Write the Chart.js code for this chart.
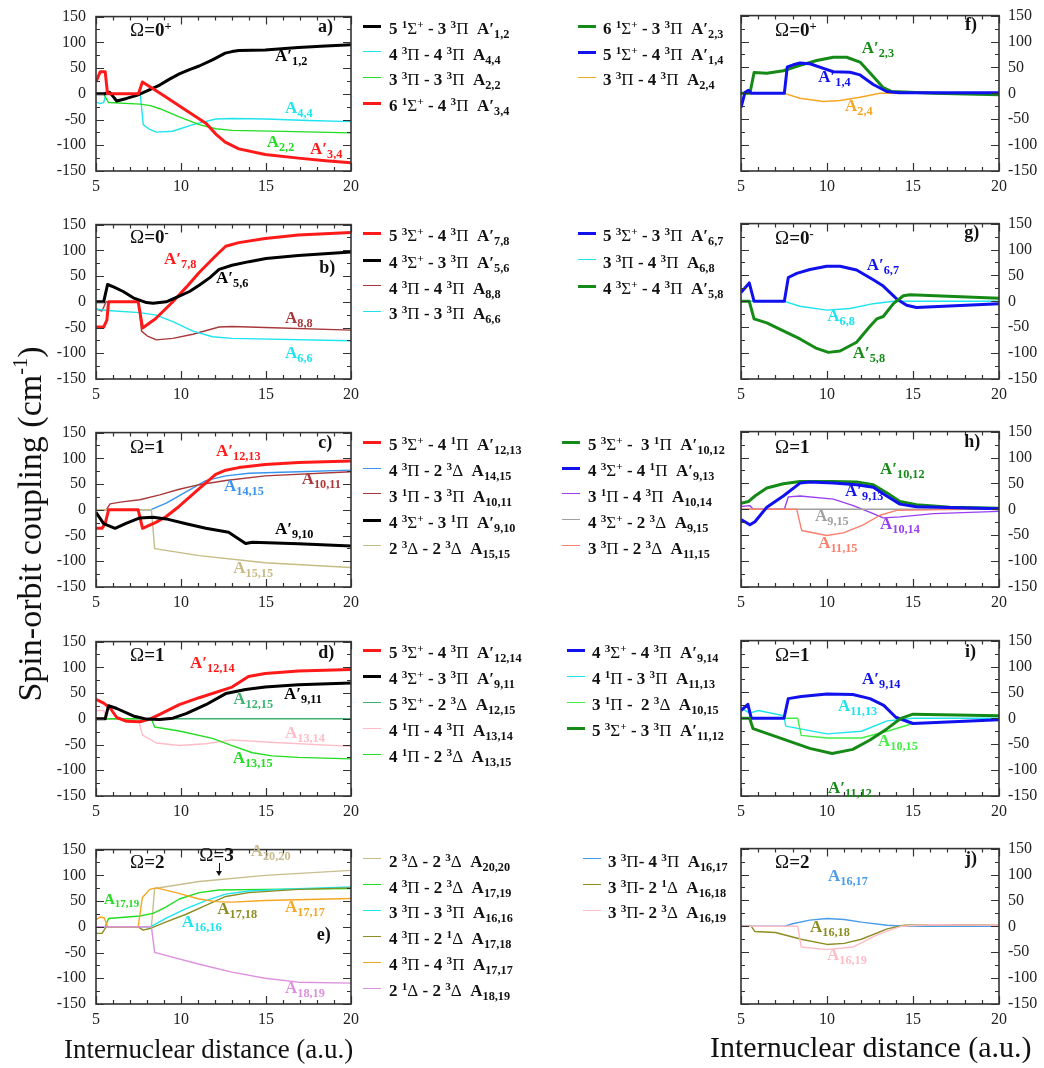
<!DOCTYPE html>
<html><head><meta charset="utf-8">
<script src="https://cdn.jsdelivr.net/npm/chart.js@4.4.0/dist/chart.umd.min.js"></script>
<style>
body{margin:0;background:#fff;width:1044px;height:1068px;position:relative;overflow:hidden;font-family:'Liberation Serif',serif;color:#111;}
canvas{position:absolute;}
.t{position:absolute;white-space:nowrap;line-height:1;font-weight:bold;}
.t sub{font-size:0.72em;vertical-align:-0.32em;line-height:0;}
.t sup{font-size:0.66em;vertical-align:0.5em;line-height:0;}
.n{font-weight:normal;}
.ln{position:absolute;height:0;}
</style></head><body>
<script>
// ---------------- data (internuclear distance a.u., coupling cm-1) ----------------
const xTicks = [5, 10, 15, 20];
const yTicks = [-150, -100, -50, 0, 50, 100, 150];
// panel a
const a_A12 = [[5,0],[5.5,0],[5.8,3],[6.0,-5],[6.22,-14],[6.8,-9],[7.4,-3],[7.97,5],[8.75,17],[9.3,28],[9.9,38.6],[10.5,47],[11.07,54],[11.85,66],[12.6,79],[13.0,82],[13.4,84],[14.95,85],[16.9,90],[18.5,93],[20,95.5]];
const a_A44 = [[5,-16],[5.25,-19],[5.45,-17],[5.6,0],[7.6,0],[7.78,-60],[8.1,-68],[8.55,-74.5],[9.5,-72.7],[10.7,-60],[12.05,-49],[13,-48],[15,-49],[17.5,-52],[20,-54]];
const a_A22 = [[5,0],[5.45,0],[5.74,-17],[7.6,-20],[8.2,-23],[8.75,-29],[9.9,-45],[11.07,-60],[12.04,-68],[13,-71],[16,-73],[20,-76]];
const a_A34 = [[5,23],[5.25,43],[5.54,43],[5.68,0],[7.5,0],[7.73,23],[9,-4],[10,-25.7],[11.46,-57],[12.1,-80],[12.6,-94],[13.4,-107],[14.95,-118],[16.9,-125],[18.5,-130],[20,-134]];
// panel b
const b_A78 = [[5,-49],[5.45,-49],[5.64,-35.5],[5.74,0],[7.48,0],[7.74,-51],[8.5,-33],[9.52,0],[10.3,28],[11.07,57],[12.0,88],[12.63,108],[13.4,115],[14.95,123],[16.9,130],[20,134.5]];
const b_A56 = [[5,0],[5.45,0],[5.68,33.6],[6.03,29],[6.6,20],[7.19,7.7],[7.97,-1.5],[8.36,-3],[9.13,0],[9.9,11],[10.5,20],[11.07,32],[11.7,47],[12.24,63],[13,71],[14,78],[15,84],[16.9,90],[20,97]];
const b_A88 = [[5,-14],[5.35,-18],[5.6,0],[7.5,0],[7.68,-57],[8.0,-66],[8.55,-74],[9.52,-71],[10.7,-63],[12.24,-49],[13,-48],[14.95,-50],[20,-55]];
const b_A66 = [[5,-14],[5.64,-17],[7.58,-21],[8.55,-26],[9.52,-38.6],[10.7,-57],[11.85,-68],[13,-71],[20,-75.7]];
// panel c
const c_A1213 = [[5,-36],[5.35,-36],[5.54,-27],[5.74,0],[7.48,0],[7.74,-36],[8.55,-24],[9.13,-13],[9.9,7],[11.07,41],[12.04,69],[12.63,77],[13.4,82],[14.95,88],[16.9,92],[20,95]];
const c_A1415 = [[5,0],[8.2,0],[9.13,13],[10.3,35],[11.46,56.6],[12.63,66],[14,71],[16.9,74],[20,77]];
const c_A1011 = [[5,0],[5.6,0],[5.83,11.5],[6.42,15],[7.58,19.6],[8.75,29],[9.9,40],[11.07,48.8],[12.63,57],[14.95,66],[20,74]];
const c_A910 = [[5,-5],[5.45,-27],[6.12,-36],[6.8,-25.8],[7.58,-15.8],[8.36,-14.6],[9.13,-17.7],[10.3,-27],[11.46,-36],[12.8,-43.8],[13.8,-65.5],[14.2,-63],[16.9,-66],[20,-70.5]];
const c_A1515 = [[5,0],[8.26,0],[8.45,-75.5],[11.07,-89],[14.95,-103],[20,-112]];
// panel d
const d_A1214 = [[5,38],[5.45,30.5],[5.83,21],[6.22,2.5],[6.8,-5],[7.58,-5.6],[8.16,-0.6],[8.75,8.7],[9.9,27.4],[11.07,41],[13,61.6],[13.97,82],[14.95,88],[16.9,93],[20,96]];
const d_A911 = [[5,0],[5.54,0],[5.74,25.5],[6.22,20],[7.19,5.6],[7.97,-0.6],[8.75,-1.2],[9.52,1.2],[10.3,10],[11.46,27.4],[12.63,49],[13.8,57],[14.95,61.6],[16.9,66],[20,69.7]];
const d_A1215 = [[5,0],[20,0]];
const d_A1314 = [[5,16],[5.45,16],[5.64,0],[7.48,0],[7.74,-31.7],[8.55,-47],[9.9,-52],[11.46,-48.5],[13,-41],[14.95,-45],[20,-53.5]];
const d_A1315 = [[5,0],[8.26,0],[8.45,-16],[9.9,-23.6],[11.85,-38],[13,-52],[14.2,-66],[15.35,-72],[16.9,-75],[20,-77.8]];
// panel e
const e_A2020 = [[5,0],[8.26,0],[8.45,74.5],[11.07,88],[14.95,100],[20,109.7]];
const e_A1719 = [[5,0],[5.54,0],[5.74,16],[7.58,21],[8.36,26],[9.13,38.6],[9.9,54],[11.07,66.5],[12.24,71.4],[14.95,72.7],[20,74.5]];
const e_A1616 = [[5,0],[8.2,0],[9.13,17],[10.3,35.5],[11.46,51],[12.63,63.4],[14,69.6],[16.9,74],[20,77.6]];
const e_A1718 = [[5,-12.7],[5.35,-12.7],[5.6,0],[7.48,0],[7.77,-6.5],[8.16,-3.4],[9.13,9.6],[10.3,24.4],[11.46,41.7],[12.63,59],[14,66.5],[16.9,72.7],[20,75.7]];
const e_A1717 = [[5,14],[5.25,19],[5.49,17],[5.68,0],[7.48,0],[7.73,57],[8.16,72.7],[8.55,75.7],[9.71,66.5],[11.07,54],[12.04,49],[13,48],[14.95,51],[20,55]];
const e_A1819 = [[5,0],[8.26,0],[8.45,-49.8],[11.07,-72.7],[13,-88],[14.95,-100],[16.9,-107.6],[20,-109.5]];
// panel f
const f_A23 = [[5,0],[5.52,0],[5.76,40],[6.5,38.6],[7.46,43.6],[8.43,54],[9.4,63.4],[10.37,69.6],[11.14,69.6],[11.92,60.3],[12.69,32.5],[13.27,10.8],[13.76,3.4],[16.2,0],[20,-3]];
const f_A14 = [[5,-27.5],[5.23,1.5],[5.43,6],[5.6,0],[7.52,0],[7.69,51],[8.04,55],[8.43,58.4],[9.01,57],[9.79,48],[10.37,41.7],[11.34,40.5],[11.92,35.5],[12.69,17],[13.47,3.4],[14.2,1],[20,1]];
const f_A24 = [[5,0],[7.52,0],[8.43,-9.6],[9.79,-15.8],[10.76,-14],[11.92,-7.7],[13.08,0],[20,0]];
// panel g
const g_A67 = [[5,17],[5.48,35.5],[5.76,0],[7.52,0],[7.75,46],[8.24,54],[9.01,61.5],[9.98,67.7],[10.76,67.7],[11.72,60.3],[12.69,41.7],[13.27,29.4],[14.05,4.6],[14.63,-7.7],[15.2,-12],[20,-4.6]];
const g_A68 = [[5,0],[7.52,0],[8.43,-9.6],[9.98,-17],[11.34,-13.9],[12.69,-4.6],[13.86,0],[20,0]];
const g_A58 = [[5,0],[5.48,0],[5.76,-34],[6.5,-41.7],[7.46,-57],[8.43,-72.7],[9.4,-91],[10.08,-98.6],[10.76,-96],[11.72,-79],[12.5,-48],[12.89,-34],[13.27,-29.4],[13.86,-4.6],[14.44,10.8],[14.83,12.7],[20,5.9]];
// panel h
const h_A1012 = [[5,11.5],[5.43,15],[5.81,25.7],[6.5,41],[7.46,49.4],[8.43,53.7],[10.37,53.7],[11.72,52.5],[12.69,47.5],[13.47,32],[14.24,15],[15.2,9],[17.15,4],[20,2]];
const h_A913 = [[5,-19.6],[5.52,-30],[5.81,-24],[6.5,4],[7.46,25.7],[8.43,50.6],[9.01,52.5],[10.37,50.6],[11.72,47.5],[12.69,42.5],[13.47,25.7],[14.24,10],[15.2,5],[20,1]];
const h_A1014 = [[5,5.3],[5.52,7],[5.72,0],[7.52,0],[7.75,24],[8.43,25.7],[10.37,19.6],[11.53,7],[12.69,-8.4],[13.27,-16.5],[14.24,-14.6],[16.2,-8.4],[20,-4]];
const h_A915 = [[5,0],[20,0]];
const h_A1115 = [[5,0],[8.24,0],[8.53,-41],[9.98,-50.6],[10.95,-45.6],[12.11,-30],[13.08,-11.5],[14.05,-2],[20,1]];
// panel i
const i_A914 = [[5,15],[5.4,27],[5.6,0],[7.5,0],[7.75,38],[8.5,42],[10,47],[11.5,46],[12.5,38],[13.3,25],[14,2],[15,-10],[20,-3]];
const i_A1113 = [[5,20],[5.5,10],[6,15],[7.5,5],[7.6,-15],[10,-30],[12,-25],[13.5,-5],[15,0],[20,0]];
const i_A1015 = [[5,0],[8.3,0],[8.5,-33],[10,-38],[12,-38],[13.5,-25],[15,-10],[20,-3]];
const i_A1112 = [[5,0],[5.5,0],[5.7,-20],[7,-35],[9,-58],[10.3,-68],[11.5,-60],[12.5,-42],[13.5,-20],[14.3,0],[15,8],[20,5]];
// panel j
const j_A1617 = [[5,0],[7.5,0],[8,5],[9,12],[10,15],[11,13],[12,8],[13.5,2],[14.5,0],[20,0]];
const j_A1618 = [[5,0],[5.6,0],[5.8,-10],[7,-12],[8.5,-25],[10,-35],[11,-33],[12,-25],[13.5,-5],[14.5,2],[17,3],[20,2]];
const j_A1619 = [[5,0],[8.3,0],[8.5,-40],[10,-45],[11.5,-40],[13,-15],[14.3,0],[16,3],[20,2]];

// ---------------- text helpers ----------------
const st = (n, m, s, plus) => `${n} <sup>${m}</sup><span class="n">${s}</span>${plus ? '<sup>+</sup>' : ''}`;
const S='Σ', PI='Π', D='Δ';
const lg = (a, b, lbl, sep=' - ') => a + sep + b + '&nbsp;&nbsp;' + lbl;
const Ap = s => `A′<sub>${s}</sub>`;
const Aa = s => `A<sub>${s}</sub>`;

const C = {black:'#000', cyan:'#1ee4ee', green:'#22dd22', red:'#ff1a1a', dkgreen:'#168a16', blue:'#1111ee',
  orange:'#f5a623', brown:'#a8383a', dblue:'#3894f0', khaki:'#c6bb82', gray:'#a0a0a0', salmon:'#fa7f6c',
  purple:'#9a3ff0', sea:'#3cb371', pink:'#ffbcc6', lime:'#44ee44', tan:'#c9bd8d', olive:'#8d8d22', plum:'#dd90dd', sky:'#4a9cea'};
const TH = 3, TN = 1.4;

const rowsY = [[26,52,77.3,103.3],[233.3,260,286,311.7],[442.3,468.3,494,520,546],[650.7,676.7,702.3,728.3,754.3],[859,885,910.7,936.7,962.3,988.3]];
const col2 = [[578,603],[578,603],[562,588],[567,592],[583,608]];
const plotTop = [8.5, 216.8, 425.2, 633.5, 841.8];
const plotH = 161.5;

const panels = [
 {side:'L', row:0, omega:'<span class="n">Ω</span>=0<sup>+</sup>', om:[130,23.3], letter:'a)', lt:[318,20.7], s:[
  {d:a_A12,c:C.black,w:TH,lab:Ap('1,2'),at:[275,50],leg:lg(st(5,1,S,1),st(3,3,PI),Ap('1,2'))},
  {d:a_A44,c:C.cyan,w:TN,lab:Aa('4,4'),at:[285,101.7],leg:lg(st(4,3,PI),st(4,3,PI),Aa('4,4'))},
  {d:a_A22,c:C.green,w:TN,lab:Aa('2,2'),at:[266.7,136],leg:lg(st(3,3,PI),st(3,3,PI),Aa('2,2'))},
  {d:a_A34,c:C.red,w:TH,lab:Ap('3,4'),at:[310,143.3],leg:lg(st(6,1,S,1),st(4,3,PI),Ap('3,4'))}]},
 {side:'L', row:1, omega:'<span class="n">Ω</span>=0<sup>-</sup>', om:[130,230.7], letter:'b)', lt:[319.3,261.7], s:[
  {d:b_A78,c:C.red,w:TH,lab:Ap('7,8'),at:[164,252.7],leg:lg(st(5,3,S,1),st(4,3,PI),Ap('7,8'))},
  {d:b_A56,c:C.black,w:TH,lab:Ap('5,6'),at:[216,271.7],leg:lg(st(4,3,S,1),st(3,3,PI),Ap('5,6'))},
  {d:b_A88,c:C.brown,w:TN,lab:Aa('8,8'),at:[285,311.7],leg:lg(st(4,3,PI),st(4,3,PI),Aa('8,8'))},
  {d:b_A66,c:C.cyan,w:TN,lab:Aa('6,6'),at:[285,346.7],leg:lg(st(3,3,PI),st(3,3,PI),Aa('6,6'))}]},
 {side:'L', row:2, omega:'<span class="n">Ω</span>=1', om:[130,440], letter:'c)', lt:[318.3,436.7], s:[
  {d:c_A1213,c:C.red,w:TH,lab:Ap('12,13'),at:[216,445],leg:lg(st(5,3,S,1),st(4,1,PI),Ap('12,13'))},
  {d:c_A1415,c:C.dblue,w:TN,lab:Aa('14,15'),at:[224,480],leg:lg(st(4,3,PI),st(2,3,D),Aa('14,15'))},
  {d:c_A1011,c:C.brown,w:TN,lab:Aa('10,11'),at:[301.7,473.3],leg:lg(st(3,1,PI),st(3,3,PI),Aa('10,11'))},
  {d:c_A910,c:C.black,w:TH,lab:Ap('9,10'),at:[275,522.7],leg:lg(st(4,3,S,1),st(3,1,PI),Ap('9,10'))},
  {d:c_A1515,c:C.khaki,w:TN,lab:Aa('15,15'),at:[233.3,561.7],leg:lg(st(2,3,D),st(2,3,D),Aa('15,15'))}]},
 {side:'L', row:3, omega:'<span class="n">Ω</span>=1', om:[130,648.3], letter:'d)', lt:[318.3,646.7], s:[
  {d:d_A1214,c:C.red,w:TH,lab:Ap('12,14'),at:[190,657.3],leg:lg(st(5,3,S,1),st(4,3,PI),Ap('12,14'))},
  {d:d_A911,c:C.black,w:TH,lab:Ap('9,11'),at:[284,688.3],leg:lg(st(4,3,S,1),st(3,3,PI),Ap('9,11'))},
  {d:d_A1215,c:C.sea,w:TN,lab:Aa('12,15'),at:[233.3,692.7],leg:lg(st(5,3,S,1),st(2,3,D),Aa('12,15'))},
  {d:d_A1314,c:C.pink,w:TN,lab:Aa('13,14'),at:[285,727.3],leg:lg(st(4,1,PI),st(4,3,PI),Aa('13,14'))},
  {d:d_A1315,c:C.green,w:TN,lab:Aa('13,15'),at:[232.7,751.7],leg:lg(st(4,1,PI),st(2,3,D),Aa('13,15'))}]},
 {side:'L', row:4, omega:'<span class="n">Ω</span>=2', om:[130,855], letter:'e)', lt:[316.7,928.3], s:[
  {d:e_A2020,c:C.tan,w:TN,lab:Aa('20,20'),at:[250.7,845],leg:lg(st(2,3,D),st(2,3,D),Aa('20,20'))},
  {d:e_A1719,c:C.green,w:TN,lab:Aa('17,19'),at:[104,895],fs:15,leg:lg(st(4,3,PI),st(2,3,D),Aa('17,19'))},
  {d:e_A1616,c:C.cyan,w:TN,lab:Aa('16,16'),at:[181.7,916],leg:lg(st(3,3,PI),st(3,3,PI),Aa('16,16'))},
  {d:e_A1718,c:C.olive,w:TN,lab:Aa('17,18'),at:[217.3,903.3],leg:lg(st(4,3,PI),st(2,1,D),Aa('17,18'))},
  {d:e_A1717,c:C.orange,w:TN,lab:Aa('17,17'),at:[285,900.7],leg:lg(st(4,3,PI),st(4,3,PI),Aa('17,17'))},
  {d:e_A1819,c:C.plum,w:TN,lab:Aa('18,19'),at:[285,981.7],leg:lg(st(2,1,D),st(2,3,D),Aa('18,19'))}]},
 {side:'R', row:0, omega:'<span class="n">Ω</span>=0<sup>+</sup>', om:[775,23.3], letter:'f)', lt:[965,18.3], s:[
  {d:f_A23,c:C.dkgreen,w:TH,lab:Ap('2,3'),at:[861.7,41.7],leg:lg(st(6,1,S,1),st(3,3,PI),Ap('2,3'))},
  {d:f_A14,c:C.blue,w:TH,lab:Ap('1,4'),at:[818.3,71],leg:lg(st(5,1,S,1),st(4,3,PI),Ap('1,4'))},
  {d:f_A24,c:C.orange,w:TN,lab:Aa('2,4'),at:[845,100],leg:lg(st(3,3,PI),st(4,3,PI),Aa('2,4'))}]},
 {side:'R', row:1, omega:'<span class="n">Ω</span>=0<sup>-</sup>', om:[775,231.7], letter:'g)', lt:[964.3,226.7], s:[
  {d:g_A67,c:C.blue,w:TH,lab:Ap('6,7'),at:[866.7,259.3],leg:lg(st(5,3,S,1),st(3,3,PI),Ap('6,7'))},
  {d:g_A68,c:C.cyan,w:TN,lab:Aa('6,8'),at:[827.3,310],leg:lg(st(3,3,PI),st(4,3,PI),Aa('6,8'))},
  {d:g_A58,c:C.dkgreen,w:TH,lab:Ap('5,8'),at:[852.7,346.7],leg:lg(st(4,3,S,1),st(4,3,PI),Ap('5,8'))}]},
 {side:'R', row:2, omega:'<span class="n">Ω</span>=1', om:[775,440], letter:'h)', lt:[964.3,435], s:[
  {d:h_A1012,c:C.dkgreen,w:TH,lab:Ap('10,12'),at:[880,463.3],leg:lg(st(5,3,S,1),'&nbsp;'+st(3,1,PI),Ap('10,12'))},
  {d:h_A913,c:C.blue,w:TH,lab:Ap('9,13'),at:[845,485],leg:lg(st(4,3,S,1),st(4,1,PI),Ap('9,13'))},
  {d:h_A1014,c:C.purple,w:TN,lab:Aa('10,14'),at:[880,518.3],leg:lg(st(3,1,PI),st(4,3,PI),Aa('10,14'))},
  {d:h_A915,c:C.gray,w:TN,lab:Aa('9,15'),at:[815,510],leg:lg(st(4,3,S,1),st(2,3,D),Aa('9,15'))},
  {d:h_A1115,c:C.salmon,w:TN,lab:Aa('11,15'),at:[818.3,536.7],leg:lg(st(3,3,PI),st(2,3,D),Aa('11,15'))}]},
 {side:'R', row:3, omega:'<span class="n">Ω</span>=1', om:[775,648], letter:'i)', lt:[965,645], s:[
  {d:i_A914,c:C.blue,w:TH,lab:Ap('9,14'),at:[862,673],leg:lg(st(4,3,S,1),st(4,3,PI),Ap('9,14'))},
  {d:i_A1113,c:C.cyan,w:TN,lab:Aa('11,13'),at:[838,700],leg:lg(st(4,1,PI),st(3,3,PI),Aa('11,13'))},
  {d:i_A1015,c:C.lime,w:TN,lab:Aa('10,15'),at:[878,735],leg:lg(st(3,1,PI),'&nbsp;'+st(2,3,D),Aa('10,15'))},
  {d:i_A1112,c:C.dkgreen,w:TH,lab:Ap('11,12'),at:[828,782],leg:lg(st(5,3,S,1),st(3,3,PI),Ap('11,12'))}]},
 {side:'R', row:4, omega:'<span class="n">Ω</span>=2', om:[775,855], letter:'j)', lt:[965,852], s:[
  {d:j_A1617,c:C.sky,w:TN,lab:Aa('16,17'),at:[828,870],leg:lg(st(3,3,PI),st(4,3,PI),Aa('16,17'),'- ')},
  {d:j_A1618,c:C.olive,w:TN,lab:Aa('16,18'),at:[810,921],leg:lg(st(3,3,PI),st(2,1,D),Aa('16,18'),'- ')},
  {d:j_A1619,c:C.pink,w:TN,lab:Aa('16,19'),at:[827,949],leg:lg(st(3,3,PI),st(2,3,D),Aa('16,19'),'- ')}]}
];

// ---------------- drawing ----------------
function addText(html, x, capTop, size, color, cls) {
  const el = document.createElement('div');
  el.className = 't' + (cls ? ' ' + cls : '');
  el.style.left = x + 'px';
  el.style.top = (capTop - 0.18 * size) + 'px';
  el.style.fontSize = size + 'px';
  el.style.color = color;
  el.innerHTML = html;
  document.body.appendChild(el);
  return el;
}
function addLine(x1, x2, y, w, color) {
  const el = document.createElement('div');
  el.className = 'ln';
  el.style.left = x1 + 'px'; el.style.width = (x2 - x1) + 'px';
  el.style.top = (y - w / 2) + 'px';
  el.style.borderTop = w + 'px solid ' + color;
  document.body.appendChild(el);
}

const framePlugin = {
  id: 'frame',
  afterDatasetsDraw(chart) {
    const {ctx, chartArea: {left, right, top, bottom}, scales: {x, y}} = chart;
    ctx.save();
    ctx.strokeStyle = '#333'; ctx.lineWidth = 1.2;
    ctx.beginPath();
    for (let v = 5; v <= 20; v += 1) {
      const px = Math.round(x.getPixelForValue(v)) + 0.5, len = v % 5 === 0 ? 8 : 4;
      ctx.moveTo(px, bottom); ctx.lineTo(px, bottom - len);
      ctx.moveTo(px, top); ctx.lineTo(px, top + len);
    }
    for (let v = -150; v <= 150; v += 25) {
      const py = Math.round(y.getPixelForValue(v)) + 0.5, len = v % 50 === 0 ? 8 : 4;
      ctx.moveTo(left, py); ctx.lineTo(left + len, py);
      ctx.moveTo(right, py); ctx.lineTo(right - len, py);
    }
    ctx.stroke();
    ctx.lineWidth = 1.6;
    ctx.strokeRect(left, top, right - left, bottom - top);
    ctx.restore();
  }
};

const tickFont = {family: "'Liberation Serif', serif", size: 16};

panels.forEach(p => {
  const T = plotTop[p.row];
  const cv = document.createElement('canvas');
  const L = p.side === 'L';
  const cx = L ? 0 : 731, cw = L ? 365 : 313;
  const ch = Math.round(plotH + 12 + 32);
  cv.width = cw; cv.height = ch;
  cv.style.left = cx + 'px'; cv.style.top = (T - 12) + 'px';
  document.body.appendChild(cv);
  const datasets = p.s.slice().reverse().map(s => ({
    data: s.d.map(([x, y]) => ({x, y})),
    borderColor: s.c, borderWidth: s.w, pointRadius: 0, tension: 0, fill: false,
    borderJoinStyle: 'round'
  }));
  datasets.sort((a, b) => b.borderWidth - a.borderWidth);
  new Chart(cv, {
    type: 'line',
    data: {datasets},
    options: {
      responsive: false, animation: false, maintainAspectRatio: false,
      layout: {padding: {top: 12, right: L ? 12 : 0, left: L ? 0 : 10, bottom: 0}},
      plugins: {legend: {display: false}, tooltip: {enabled: false}},
      scales: {
        x: {type: 'linear', min: 5, max: 20,
            afterBuildTicks: sc => { sc.ticks = xTicks.map(v => ({value: v})); },
            afterFit: sc => { sc.height = 32; },
            grid: {display: false, drawTicks: false}, border: {display: false},
            ticks: {font: tickFont, color: '#222', padding: 6, maxRotation: 0, autoSkip: false}},
        y: {type: 'linear', min: -150, max: 150, position: L ? 'left' : 'right',
            afterBuildTicks: sc => { sc.ticks = yTicks.map(v => ({value: v})); },
            afterFit: sc => { sc.width = L ? 96 : 45; },
            grid: {display: false, drawTicks: false}, border: {display: false},
            ticks: {font: tickFont, color: '#222', padding: L ? 10 : 9, autoSkip: false}}
      }
    },
    plugins: [framePlugin]
  });
  addText(p.omega, p.om[0], p.om[1], 19, '#111');
  addText(p.letter, p.lt[0], p.lt[1], 18, '#111');
  const ry = rowsY[p.row];
  p.s.forEach((s, k) => {
    addText(s.lab, s.at[0], s.at[1], s.fs || 17, s.c);
    const lx1 = L ? 363 : col2[p.row][0], tx = L ? 389 : col2[p.row][1];
    addLine(lx1, lx1 + 18, ry[k], s.w >= 2 ? 3 : 1.5, s.c);
    addText(s.leg, tx, ry[k] - 3.3, 17, '#111');
  });
});
// Omega=3 annotation in panel e
addText('<span class="n">Ω</span>=3', 199.3, 848.3, 19, '#111');
addLine(218.5, 219.5, 868, 11, '#111');
(function(){ const el=document.createElement('div'); el.style.cssText='position:absolute;left:216px;top:871px;width:0;height:0;border-left:3px solid transparent;border-right:3px solid transparent;border-top:5px solid #111;'; document.body.appendChild(el); })();

// axis titles
(function(){
  const y = document.createElement('div');
  y.style.cssText = "position:absolute;left:-200px;top:506px;width:460px;text-align:center;font-size:34px;line-height:36px;transform:rotate(-90deg);white-space:nowrap;color:#111;";
  y.innerHTML = 'Spin-orbit coupling (cm<sup style="font-size:0.6em;vertical-align:0.7em;line-height:0">-1</sup>)';
  document.body.appendChild(y);
  [[64, 27, 1033], [710, 30, 1031]].forEach(([x, fs, top]) => {
    const el = document.createElement('div');
    el.style.cssText = `position:absolute;left:${x}px;top:${top}px;font-size:${fs}px;line-height:32px;white-space:nowrap;color:#111;`;
    el.textContent = 'Internuclear distance (a.u.)';
    document.body.appendChild(el);
  });
})();
</script>
</body></html>
